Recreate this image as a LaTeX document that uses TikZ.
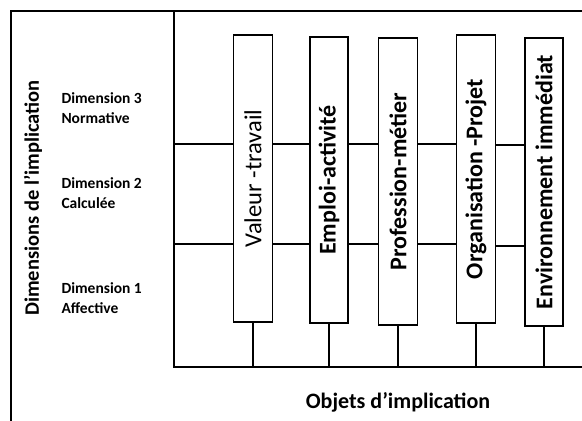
\documentclass[tikz,border=0pt]{standalone}
\usepackage{fontspec}
\setmainfont{Carlito}
\begin{document}
\begin{tikzpicture}[x=1pt,y=-1pt,
  frame/.style={line width=1.9pt},
  link/.style={line width=1.4pt},
  objbox/.style={draw,line width=1.5pt,fill=white,inner sep=0pt},
  objlabel/.style={font=\fontsize{24}{28}\selectfont\bfseries},
  dimlabel/.style={font=\fontsize{15.5}{20}\selectfont\bfseries,align=left,anchor=west}]
\useasboundingbox (0,0) rectangle (582,421);
% outer frame (open to the right and bottom)
\coordinate (otl) at (11,11);
\coordinate (otr) at (582,11);
\coordinate (obl) at (11,421);
\draw[frame] (otr) -- (otl) -- (obl);
% inner frame
\coordinate (itl) at (174,11);
\coordinate (ibl) at (174,367);
\coordinate (ibr) at (582,367);
\draw[frame] (itl) -- (ibl) -- (ibr);
% object boxes
\node[objbox,minimum width=39,minimum height=287] (b1) at (253,178.5) {};
\node[objbox,minimum width=38,minimum height=286] (b2) at (329,180) {};
\node[objbox,minimum width=39,minimum height=287] (b3) at (398,181.5) {};
\node[objbox,minimum width=39,minimum height=288] (b4) at (476,179) {};
\node[objbox,minimum width=38,minimum height=288] (b5) at (544,182) {};
% dimension levels
\coordinate (h1) at (174,144);
\coordinate (h2) at (174,244);
\draw[link] (h1) -- (h1 -| b1.west) (h1 -| b1.east) -- (h1 -| b2.west)
  (h1 -| b2.east) -- (h1 -| b3.west) (h1 -| b3.east) -- (h1 -| b4.west);
\draw[link] ([yshift=-1]h1 -| b4.east) -- ([yshift=-1]h1 -| b5.west);
\draw[link] (h2) -- (h2 -| b1.west) (h2 -| b1.east) -- (h2 -| b2.west)
  (h2 -| b2.east) -- (h2 -| b3.west) (h2 -| b3.east) -- (h2 -| b4.west);
\draw[link] ([yshift=-2]h2 -| b4.east) -- ([yshift=-2]h2 -| b5.west);
% stems down to the object axis
\foreach \b in {b1,b2,b3,b4,b5}
  \draw[link] (\b.south) -- (\b.south |- ibr);
% box labels
\node[font=\fontsize{24.5}{28}\selectfont,rotate=90] (t1) at (b1.center) {Valeur -travail};
\node[objlabel,rotate=90] (t2) at (b2.center) {Emploi-activité};
\node[objlabel,rotate=90] (t3) at (b3.center) {Profession-métier};
\node[objlabel,rotate=90] (t4) at (b4.center) {Organisation -Projet};
\node[objlabel,rotate=90] (t5) at (b5.center) {Environnement immédiat};
% axis titles
\node[font=\fontsize{20.5}{24}\selectfont\bfseries,rotate=90] (ydim) at (33,198) {Dimensions de l’implication};
\node[font=\fontsize{22}{26}\selectfont\bfseries] (xobj) at (398,402) {Objets d’implication};
% dimension labels
\node[dimlabel] (d3) at (58,108) {Dimension 3\\Normative};
\node[dimlabel] (d2) at (58,193) {Dimension 2\\Calculée};
\node[dimlabel] (d1) at (58,298) {Dimension 1\\Affective};
\end{tikzpicture}
\end{document}
